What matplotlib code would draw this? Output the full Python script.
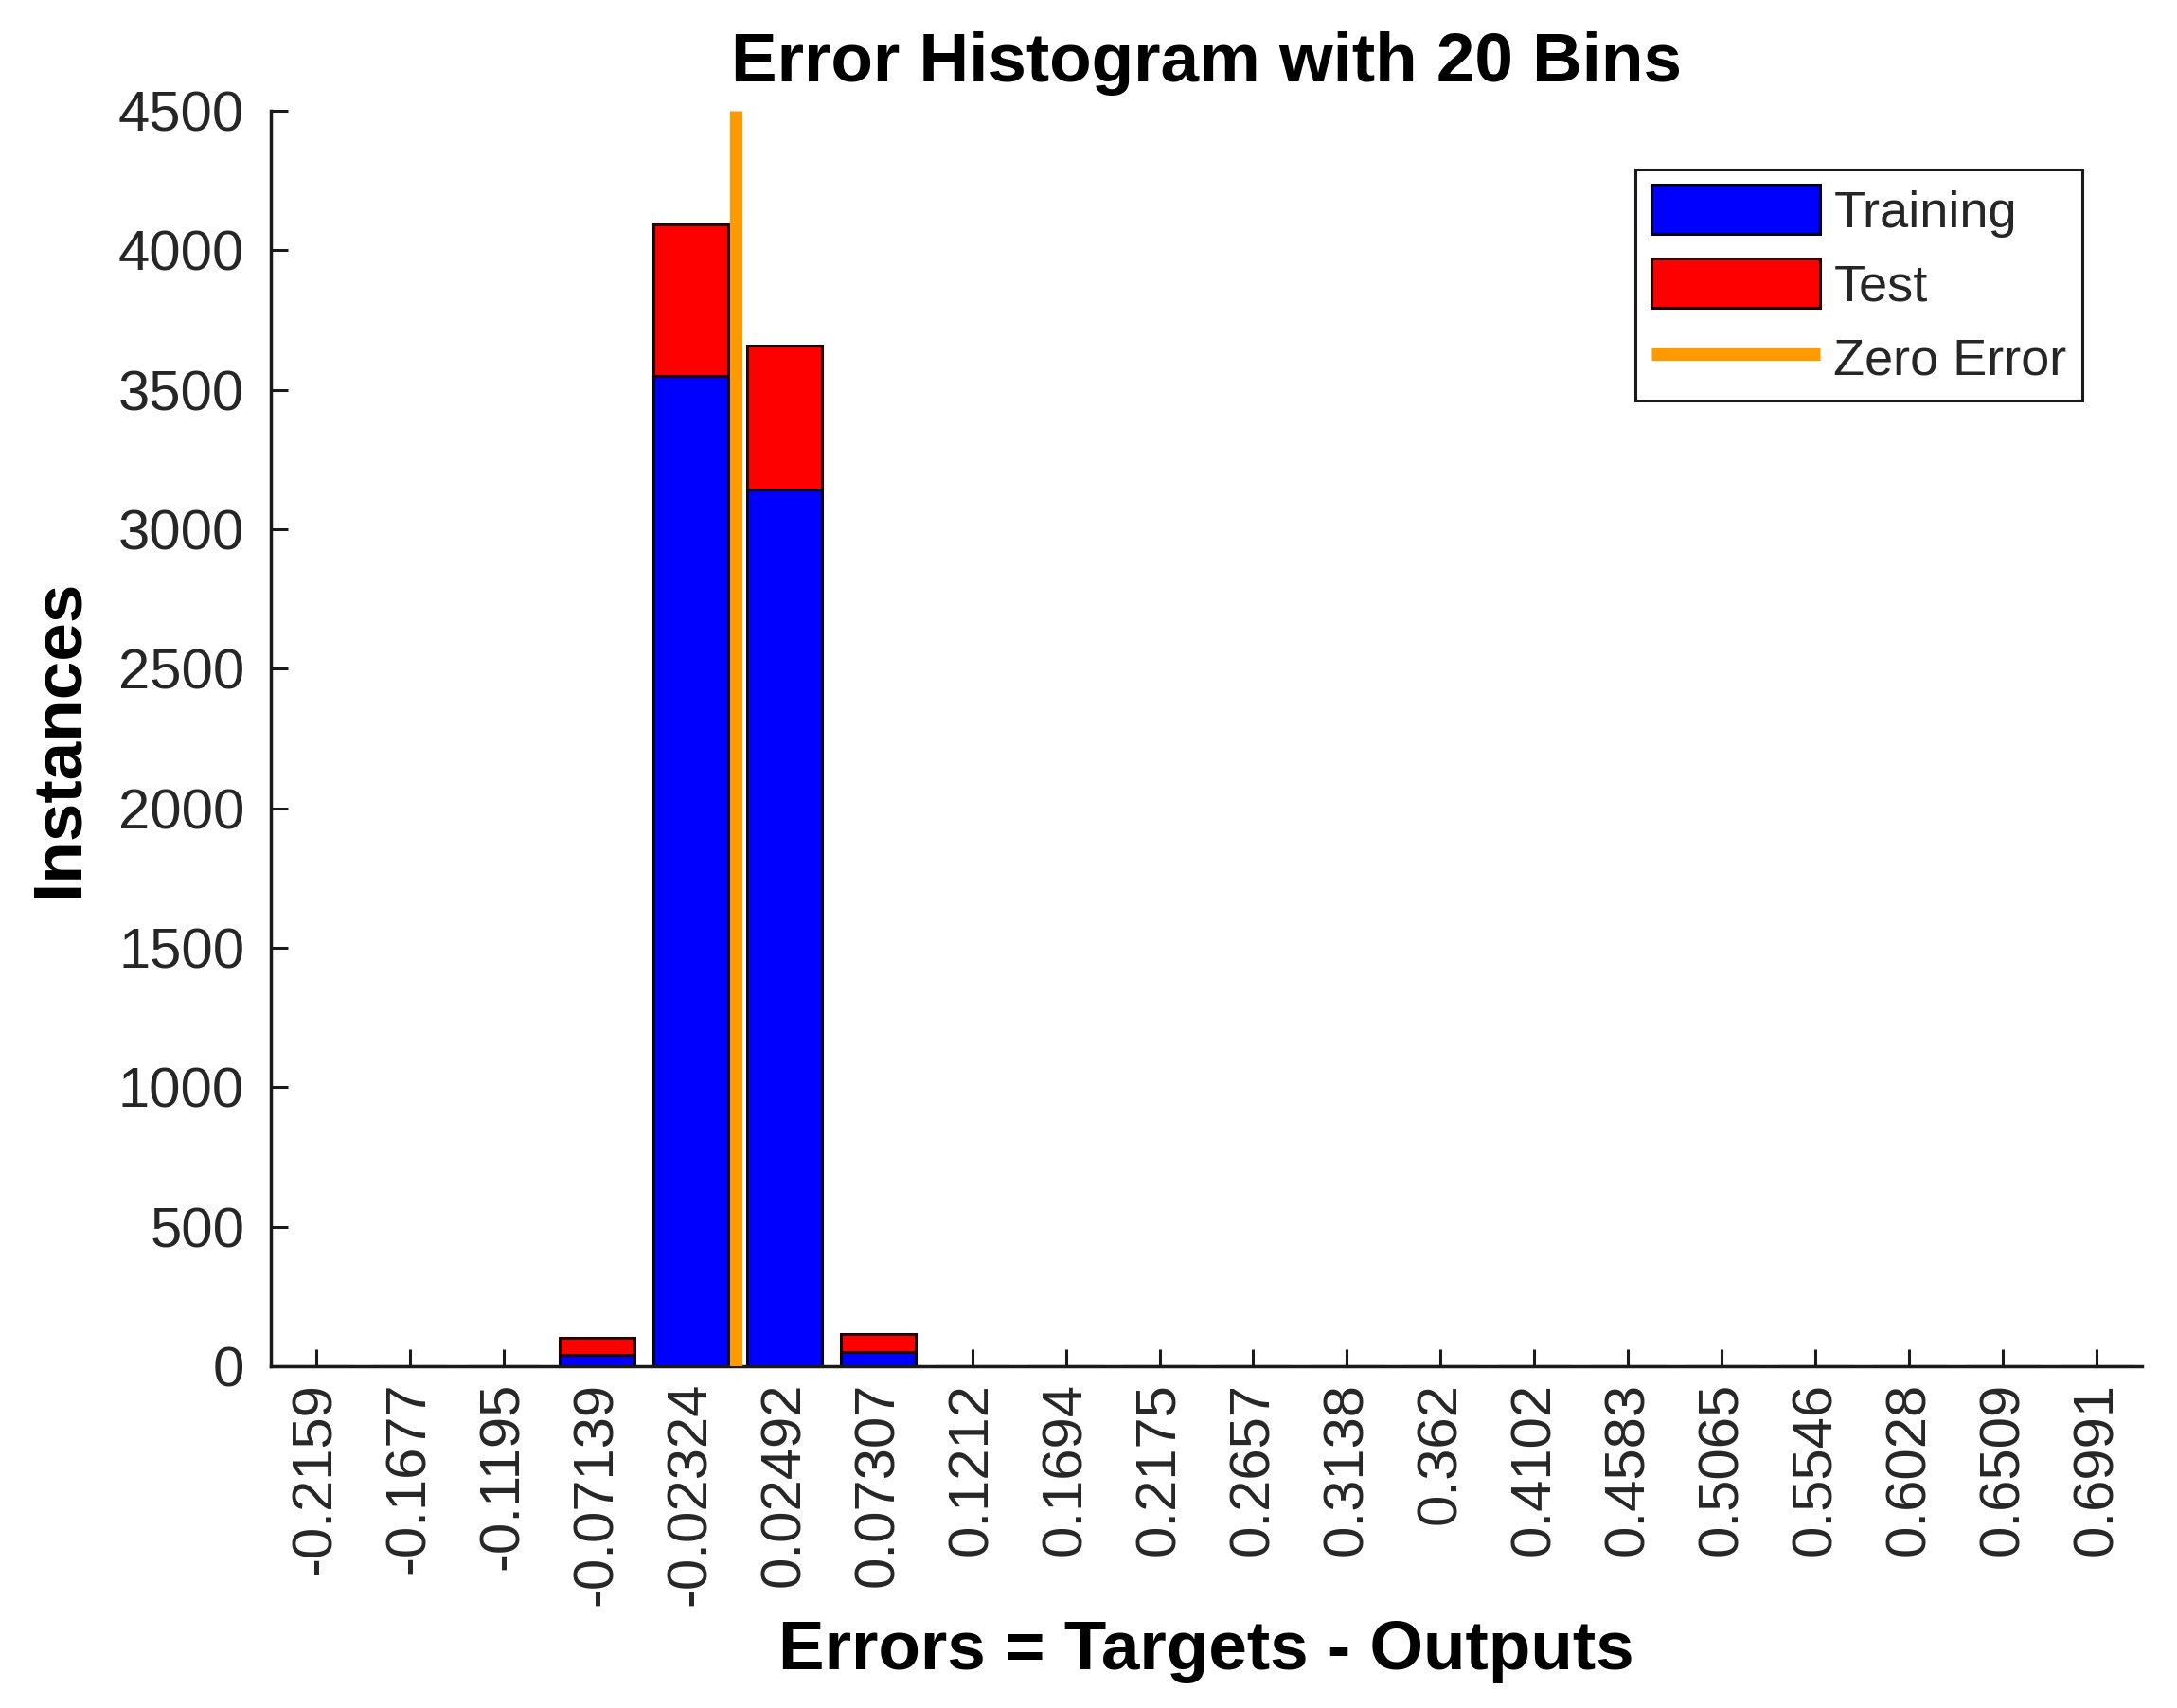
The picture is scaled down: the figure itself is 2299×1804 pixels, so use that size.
import matplotlib
matplotlib.use("Agg")
import matplotlib.pyplot as plt
import numpy as np

plt.rcParams['font.family'] = ['Liberation Sans', 'DejaVu Sans']

bin_labels = ["-0.2159", "-0.1677", "-0.1195", "-0.07139", "-0.02324", "0.02492",
              "0.07307", "0.1212", "0.1694", "0.2175", "0.2657", "0.3138", "0.362",
              "0.4102", "0.4583", "0.5065", "0.5546", "0.6028", "0.6509", "0.6991"]
training = [0, 0, 0, 41, 3551, 3141, 50, 0, 0, 0, 0, 0, 0, 0, 0, 0, 0, 0, 0, 0]
test = [0, 0, 0, 60, 543, 517, 64, 0, 0, 0, 0, 0, 0, 0, 0, 0, 0, 0, 0, 0]
y_ticks = [0, 500, 1000, 1500, 2000, 2500, 3000, 3500, 4000, 4500]

centers = np.array([float(s) for s in bin_labels])
step = (centers[-1] - centers[0]) / (len(centers) - 1)
idx = np.arange(len(bin_labels))
zero_pos = (0 - centers[0]) / step

fig = plt.figure(figsize=(22.99, 18.04), dpi=100)
ax = fig.add_axes([286/2299, 1 - 1443/1804, (2262-286)/2299, (1443-117)/1804])

tr = np.array(training)
te = np.array(test)
h1 = ax.bar(idx, tr, width=0.8, color='#0000FF', edgecolor='#000022', linewidth=2.2, label='Training', zorder=2)
h2 = ax.bar(idx, te, width=0.8, bottom=tr, color='#FF0000', edgecolor='#220000', linewidth=2.2, label='Test', zorder=2)
h3, = ax.plot([zero_pos, zero_pos], [0, 4500], color='#FF9900', linewidth=9.5, label='Zero Error', zorder=3, solid_capstyle='butt')

ax.set_xlim(-0.48, len(idx) - 1 + 0.48)
ax.set_ylim(0, 4500)
ax.set_xticks(idx)
ax.set_xticklabels(bin_labels, rotation=90)
ax.set_yticks(y_ticks)
ax.set_yticklabels([str(v) for v in y_ticks])

for s in ['top', 'right']:
    ax.spines[s].set_visible(False)
for s in ['left', 'bottom']:
    ax.spines[s].set_linewidth(2.5)
    ax.spines[s].set_color('#1a1a1a')

ax.tick_params(axis='both', direction='in', length=13, width=2.2, colors='#1a1a1a',
               labelsize=43, labelcolor='#262626')
ax.tick_params(axis='x', pad=12)
ax.tick_params(axis='y', pad=20)

ax.set_title('Error Histogram with 20 Bins', fontsize=52.5, fontweight='bold', pad=22)
ax.set_xlabel('Errors = Targets - Outputs', fontsize=52.5, fontweight='bold', labelpad=10)
ax.set_ylabel('Instances', fontsize=52.5, fontweight='bold', labelpad=20)

leg = ax.legend(handles=[h1, h2, h3], labels=['Training', 'Test', 'Zero Error'],
                loc='upper right', bbox_to_anchor=(2199/2299, 1 - 179/1804),
                bbox_transform=fig.transFigure, borderaxespad=0, fontsize=39,
                handlelength=3.3, handleheight=1.1, handletextpad=0.26,
                borderpad=0.3, labelspacing=0.42, fancybox=False, framealpha=1,
                edgecolor='#1a1a1a')
leg.get_frame().set_linewidth(2.2)
for t in leg.get_texts():
    t.set_color('#262626')

fig.savefig('out.png', dpi=100, facecolor='white')
